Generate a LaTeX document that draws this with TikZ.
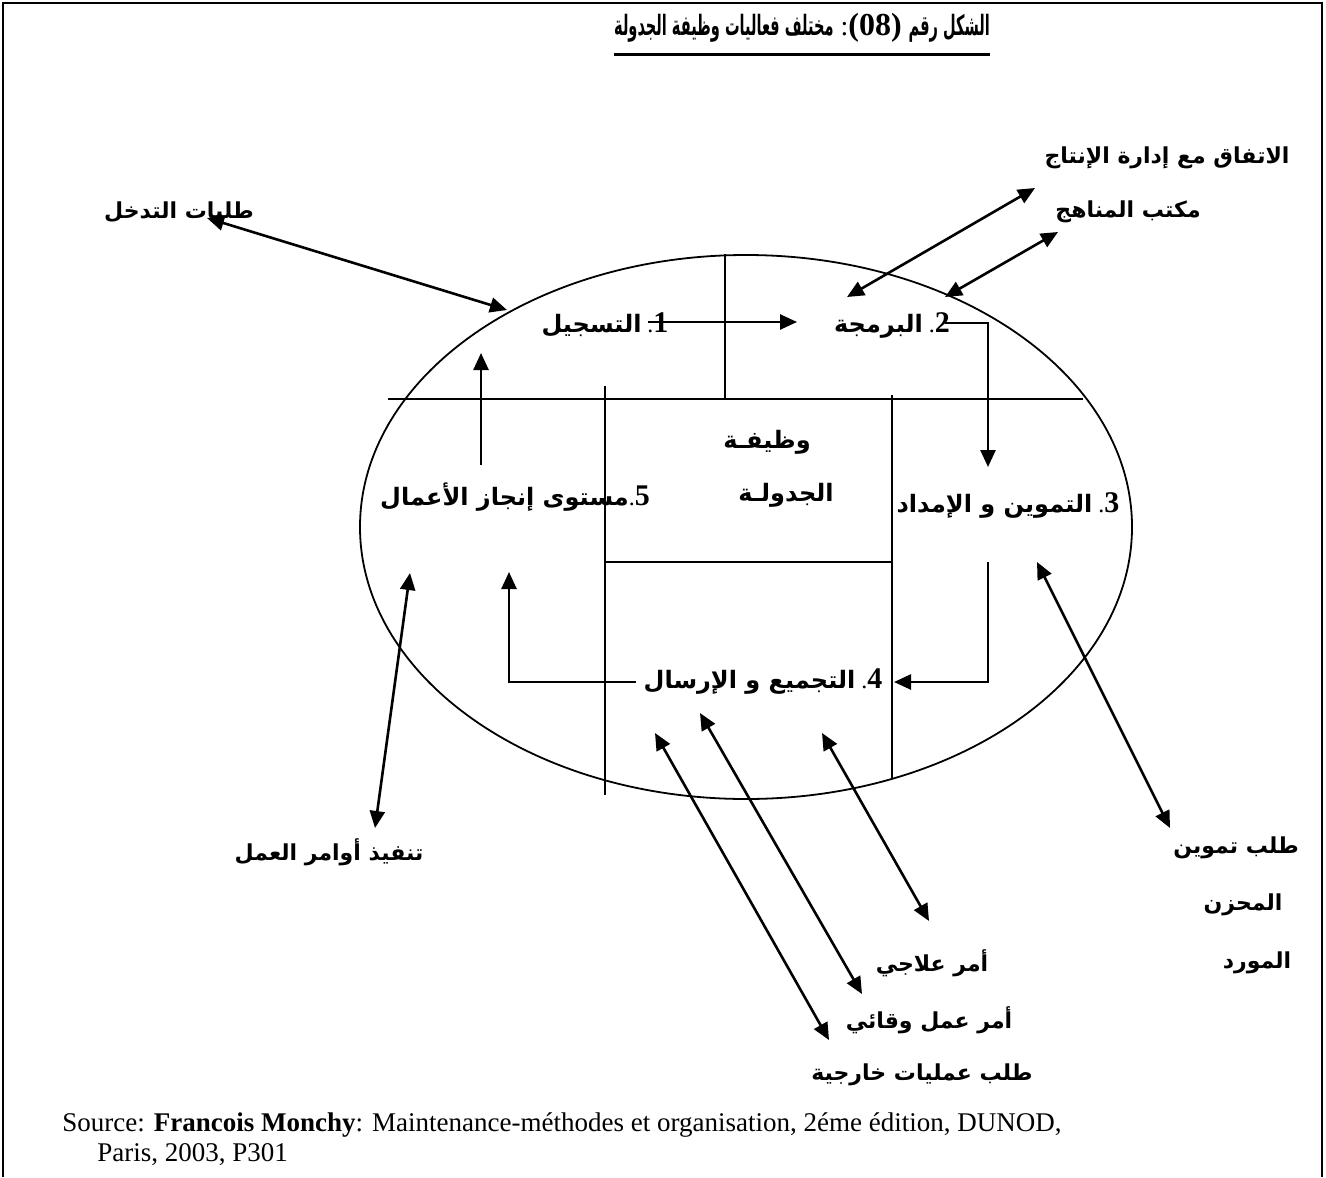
\documentclass[tikz,border=0pt]{standalone}
\usepackage{fontspec}
\setmainfont{Liberation Serif}
\newfontfamily\arfont[Script=Arabic]{DejaVu Sans}
\TeXXeTstate=1
\usetikzlibrary{arrows.meta}
% Arabic run, right to left, bold
\newcommand\AR[1]{{\arfont\bfseries\beginR #1\endR}}
% condensed Arabic run for the heading
\newcommand\ARC[1]{\scalebox{0.52}[1]{\AR{#1}}}
% step numbers in bold serif
\newcommand\NUM[1]{{\fontsize{15}{15}\selectfont\bfseries #1}}

\begin{document}
\begin{tikzpicture}[x=0.5pt,y=-0.5pt,
  lbl/.style={inner sep=0pt, font=\fontsize{12}{14}\selectfont},
  outlbl/.style={inner sep=0pt, font=\fontsize{11}{13}\selectfont},
  frameline/.style={line width=1pt},
  thinline/.style={line width=0.9pt},
  tip/.style={line width=1.3pt,-{Triangle[length=8.5pt,width=7.5pt]}},
  both/.style={line width=1.3pt,{Triangle[length=8.5pt,width=7.5pt]}-{Triangle[length=8.5pt,width=7.5pt]}}]
\useasboundingbox (0,0) rectangle (1326,1177);
\fill[white] (0,0) rectangle (1326,1177);
\draw[frameline] (3,1177) -- (3,3) -- (1322,3) -- (1322,1177);

% title with underline
\node[inner sep=0pt, font=\fontsize{14}{16}\selectfont] (title) at (802,28)
  {\ARC{مختلف فعاليات وظيفة الجدولة}\ :{\fontsize{16}{16}\selectfont\textbf{(08)}}\ \ARC{الشكل رقم}};
\draw[line width=1.5pt] (title.south west |- 0,55) -- (title.south east |- 0,55);

% the scheduling function: ellipse divided into fields
\draw[thinline] (746,527) ellipse [x radius=193pt, y radius=136pt];
\draw[thinline] (388,399) -- (1083,399);
\draw[thinline] (725,254) -- (725,399);
\draw[thinline] (605,386) -- (605,795);
\draw[thinline] (892,395) -- (892,778);
\draw[thinline] (605,562) -- (892,562);

% fields
\node[lbl] (s1) at (605,325) {\AR{التسجيل}\ .\NUM{1}};
\node[lbl] (s2) at (892,325) {\AR{البرمجة}\ .\NUM{2}};
\node[lbl] (s3) at (1008,505) {\AR{التموين و الإمداد}\ .\NUM{3}};
\node[lbl] (s4) at (763,682) {\AR{التجميع و الإرسال}\ .\NUM{4}};
\node[lbl] (s5) at (515,497) {\AR{مستوى إنجاز الأعمال}.\NUM{5}};
\node[lbl] (fa) at (767,442) {\AR{وظيفـة}};
\node[lbl] (fb) at (786,495) {\AR{الجدولـة}};

% outer partners
\node[outlbl] (o1) at (179,212) {\AR{طلبات التدخل}};
\node[outlbl] (o2) at (1167,158) {\AR{الاتفاق مع إدارة الإنتاج}};
\node[outlbl] (o3) at (1128,212) {\AR{مكتب المناهج}};
\node[outlbl] (o4) at (329,852) {\AR{تنفيذ أوامر العمل}};
\node[outlbl] (o5) at (1236,848) {\AR{طلب تموين}};
\node[outlbl] (o6) at (1243,905) {\AR{المحزن}};
\node[outlbl] (o7) at (1257,963) {\AR{المورد}};
\node[outlbl] (o8) at (932,963) {\AR{أمر علاجي}};
\node[outlbl] (o9) at (929,1020) {\AR{أمر عمل وقائي}};
\node[outlbl] (o10) at (922,1075) {\AR{طلب عمليات خارجية}};

% flow between the fields
\coordinate (p1) at (648,322); \coordinate (p2) at (797,322);
\coordinate (q1) at (945,323); \coordinate (q2) at (988,467);
\coordinate (r1) at (988,562); \coordinate (r2) at (894,682);
\coordinate (t1) at (636,682); \coordinate (t2) at (509,572);
\coordinate (u1) at (481,465); \coordinate (u2) at (481,353);
\draw[tip] (p1) -- (p2);
\draw[tip] (q1) -| (q2);
\draw[tip] (r1) |- (r2);
\draw[tip] (t1) -| (t2);
\draw[tip] (u1) -- (u2);

% exchanges with the outside
\coordinate (e1a) at (207,218);  \coordinate (e1b) at (507,310);
\coordinate (e2a) at (847,297);  \coordinate (e2b) at (1035,188);
\coordinate (e3a) at (945,297);  \coordinate (e3b) at (1058,232);
\coordinate (e4a) at (410,573);  \coordinate (e4b) at (375,828);
\coordinate (e5a) at (1037,562); \coordinate (e5b) at (1170,828);
\coordinate (e6a) at (822,733);  \coordinate (e6b) at (929,921);
\coordinate (e7a) at (700,713);  \coordinate (e7b) at (862,994);
\coordinate (e8a) at (655,733);  \coordinate (e8b) at (829,1040);
\draw[both] (e1a) -- (e1b);
\draw[both] (e2a) -- (e2b);
\draw[both] (e3a) -- (e3b);
\draw[both] (e4a) -- (e4b);
\draw[both] (e5a) -- (e5b);
\draw[both] (e6a) -- (e6b);
\draw[both] (e7a) -- (e7b);
\draw[both] (e8a) -- (e8b);

% source line
\node[anchor=west, inner sep=0pt, font=\fontsize{13.5}{16}\selectfont] (src1) at (62,1125)
  {Source: \textbf{Francois Monchy}: Maintenance-méthodes et organisation, 2éme édition, DUNOD,};
\node[anchor=west, inner sep=0pt, font=\fontsize{13.5}{16}\selectfont] (src2) at (97,1155)
  {Paris, 2003, P301};
\end{tikzpicture}
\end{document}
